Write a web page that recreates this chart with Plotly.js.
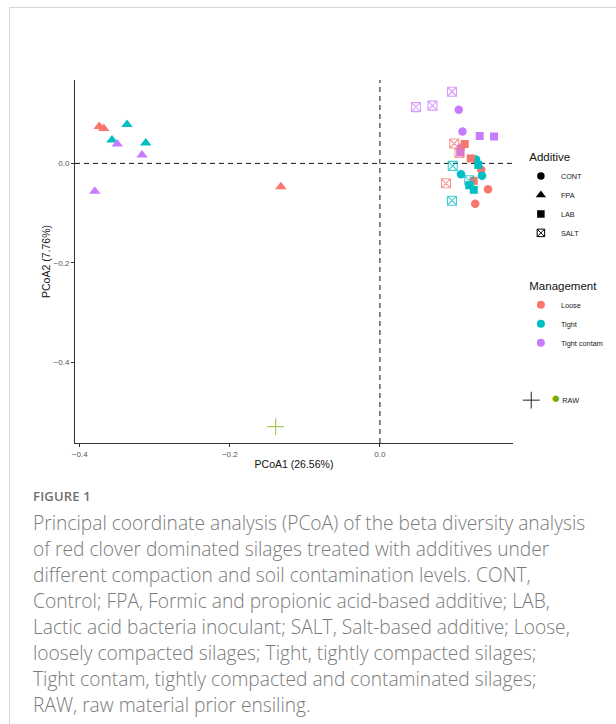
<!DOCTYPE html>
<html>
<head>
<meta charset="utf-8">
<script src="https://cdn.plot.ly/plotly-3.0.1.min.js"></script>
<style>
  html, body { margin: 0; padding: 0; background: #fff; width: 616px; height: 724px; overflow: hidden; }
  #frame { position: absolute; left: 9px; top: 7px; width: 607px; height: 717px;
           border-top: 1px solid #d6d6d6; border-left: 1px solid #d6d6d6; box-sizing: border-box; }
  #chart { position: absolute; left: 0; top: 0; width: 616px; height: 480px; }
  #figlabel { position: absolute; left: 33px; top: 487px; font-family: "Open Sans", sans-serif;
              font-weight: 600; font-size: 13px; color: #707070; letter-spacing: 0.2px; }
  #caption { position: absolute; left: 33px; top: 510px; font-family: "Open Sans", sans-serif;
             font-weight: 300; font-size: 19.2px; line-height: 26px; color: #7a7a7a; white-space: nowrap; }
</style>
</head>
<body>
<div id="frame"></div>
<div id="chart"></div>
<div id="figlabel">FIGURE 1</div>
<div id="caption">Principal coordinate analysis (PCoA) of the beta diversity analysis<br>of red clover dominated silages treated with additives under<br>different compaction and soil contamination levels. CONT,<br>Control; FPA, Formic and propionic acid-based additive; LAB,<br>Lactic acid bacteria inoculant; SALT, Salt-based additive; Loose,<br>loosely compacted silages; Tight, tightly compacted silages;<br>Tight contam, tightly compacted and contaminated silages;<br>RAW, raw material prior ensiling.</div>
<script>
// ---- data ----
const additives = ["CONT", "FPA", "LAB", "SALT"];
const managements = ["Loose", "Tight", "Tight contam"];

const sampleAdditive = [
  "FPA","FPA","FPA","FPA","FPA","FPA","FPA","FPA","FPA",
  "CONT","CONT","CONT","CONT","CONT","CONT","CONT","CONT","CONT",
  "LAB","LAB","LAB","LAB","LAB","LAB","LAB","LAB","LAB",
  "SALT","SALT","SALT","SALT","SALT","SALT","SALT","SALT","SALT"
];
const sampleManagement = [
  "Loose","Loose","Loose","Tight","Tight","Tight","Tight contam","Tight contam","Tight contam",
  "Loose","Loose","Loose","Tight","Tight","Tight","Tight contam","Tight contam","Tight contam",
  "Loose","Loose","Loose","Tight","Tight","Tight","Tight contam","Tight contam","Tight contam",
  "Loose","Loose","Loose","Tight","Tight","Tight","Tight contam","Tight contam","Tight contam"
];
const pcoa1 = [
  -0.374, -0.368, -0.132, -0.337, -0.357, -0.312, -0.350, -0.317, -0.380,
   0.135,  0.144,  0.127,  0.128,  0.136,  0.108,  0.105,  0.110,  0.108,
   0.113,  0.121,  0.125,  0.131,  0.119,  0.125,  0.133,  0.152,  0.107,
   0.099,  0.106,  0.088,  0.097,  0.119,  0.096,  0.096,  0.048,  0.070
];
const pcoa2 = [
   0.074,  0.070, -0.047,  0.078,  0.047,  0.041,  0.039,  0.017, -0.056,
  -0.013, -0.052, -0.081,  0.008, -0.025, -0.022,  0.108,  0.064,  0.032,
   0.039,  0.010, -0.035, -0.003, -0.044, -0.053,  0.055,  0.054,  0.022,
   0.040,  0.021, -0.040, -0.005, -0.034, -0.075,  0.144,  0.113,  0.116
];
const rawPcoa1 = [-0.139];
const rawPcoa2 = [-0.529];

// ---- styles ----
const mgmtColor = { "Loose": "#F8766D", "Tight": "#00BFC4", "Tight contam": "#C77CFF" };
const addSymbol = { "CONT": "circle", "FPA": "triangle-up", "LAB": "square", "SALT": "square-x-open" };
const addSize = { "CONT": 8.5, "FPA": 10, "LAB": 8, "SALT": 9 };

const traces = [];
additives.forEach(a => {
  managements.forEach(m => {
    const xs = [], ys = [];
    sampleAdditive.forEach((v, i) => {
      if (v === a && sampleManagement[i] === m) { xs.push(pcoa1[i]); ys.push(pcoa2[i]); }
    });
    traces.push({
      type: "scatter", mode: "markers", x: xs, y: ys, showlegend: false,
      hoverinfo: "x+y",
      marker: {
        symbol: addSymbol[a], size: addSize[a], color: mgmtColor[m],
        opacity: a === "SALT" ? 0.75 : 1,
        line: { width: a === "SALT" ? 1.1 : 0, color: mgmtColor[m] }
      }
    });
  });
});
traces.push({
  type: "scatter", mode: "markers", x: rawPcoa1, y: rawPcoa2, showlegend: false,
  marker: { symbol: "cross-thin-open", size: 12, color: "#7CAE00", opacity: 0.65,
            line: { width: 1.2, color: "#7CAE00" } }
});

// legend entries
additives.forEach(a => {
  traces.push({
    type: "scatter", mode: "markers", x: [null], y: [null], name: a, legend: "legend",
    marker: { symbol: addSymbol[a], size: a === "FPA" ? 9 : 7.5, color: "#000",
              line: { width: a === "SALT" ? 1 : 0, color: "#000" } }
  });
});
managements.forEach(m => {
  traces.push({
    type: "scatter", mode: "markers", x: [null], y: [null], name: m, legend: "legend2",
    marker: { symbol: "circle", size: 8, color: mgmtColor[m] }
  });
});
traces.push({
  type: "scatter", mode: "markers", x: [null], y: [null], legend: "legend3",
  name: '<span style="color:#7CAE00;font-size:15px">●</span> RAW',
  marker: { symbol: "cross-thin-open", size: 12, color: "#222", line: { width: 1, color: "#222" } }
});

const fontFam = '"Liberation Sans", Arial, sans-serif';
const legendCommon = {
  xanchor: "left", yanchor: "top", bgcolor: "rgba(0,0,0,0)",
  font: { family: fontFam, size: 7.3, color: "#1a1a1a" },
  itemclick: false, itemdoubleclick: false
};
const legTitleFont = { family: fontFam, size: 11.5, color: "#111" };

const layout = {
  width: 616, height: 480,
  margin: { l: 75, r: 103, t: 80, b: 37, autoexpand: false },
  paper_bgcolor: "rgba(0,0,0,0)", plot_bgcolor: "#fff",
  font: { family: fontFam },
  xaxis: {
    range: [-0.4063, 0.1773], dtick: 0.2, tick0: 0, tickformat: ".1f",
    showgrid: false, zeroline: false, showline: true, linecolor: "#333", linewidth: 1,
    ticks: "outside", ticklen: 3, tickcolor: "#333", tickwidth: 1,
    tickfont: { size: 8, color: "#555", family: fontFam },
    title: { text: "PCoA1 (26.56%)", font: { size: 10.5, color: "#111", family: fontFam }, standoff: 3 }
  },
  yaxis: {
    range: [-0.562, 0.1676], dtick: 0.2, tick0: 0, tickformat: ".1f",
    showgrid: false, zeroline: false, showline: true, linecolor: "#333", linewidth: 1,
    ticks: "outside", ticklen: 3, tickcolor: "#333", tickwidth: 1,
    tickfont: { size: 8, color: "#555", family: fontFam },
    title: { text: "PCoA2 (7.76%)", font: { size: 10.5, color: "#111", family: fontFam }, standoff: 0 }
  },
  shapes: [
    { type: "line", xref: "x", yref: "paper", x0: 0, x1: 0, y0: 0, y1: 1,
      line: { color: "#111", width: 1, dash: "5px,4px" }, layer: "below" },
    { type: "line", xref: "paper", yref: "y", x0: 0, x1: 1, y0: 0, y1: 0,
      line: { color: "#111", width: 1, dash: "5px,4px" }, layer: "below" }
  ],
  legend: Object.assign({}, legendCommon, {
    x: 1.018, y: 0.817,
    title: { text: "&nbsp;&nbsp;Additive", font: legTitleFont }
  }),
  legend2: Object.assign({}, legendCommon, {
    x: 1.018, y: 0.462,
    title: { text: "&nbsp;&nbsp;Management", font: legTitleFont }
  }),
  legend3: Object.assign({}, legendCommon, { x: 0.996, y: 0.158 }),
  showlegend: true
};

Plotly.newPlot("chart", traces, layout, { displayModeBar: false, staticPlot: true });
</script>
</body>
</html>
